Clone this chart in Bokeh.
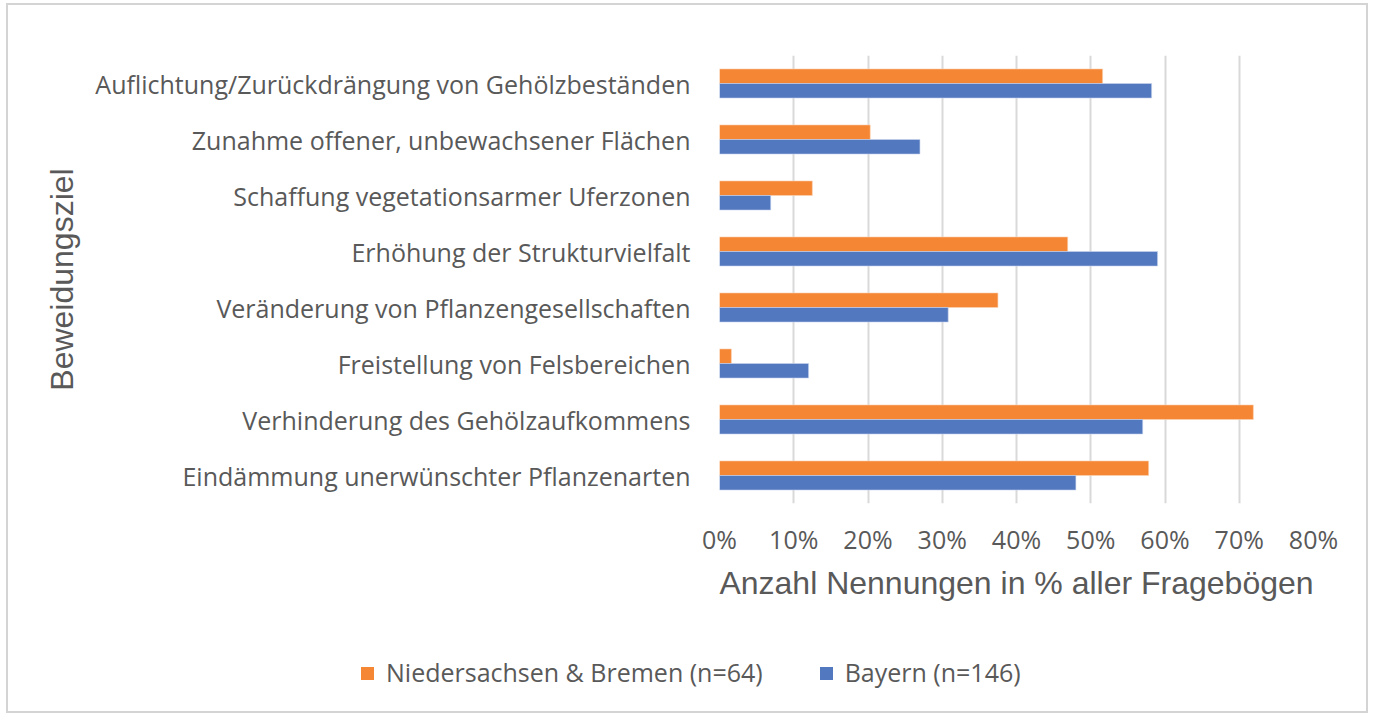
from bokeh.plotting import figure
from bokeh.models import FactorRange, Range1d, NumeralTickFormatter, FixedTicker, ColumnDataSource, Div
from bokeh.layouts import column
from bokeh.transform import dodge
from bokeh.embed import file_html
from bokeh.resources import INLINE

categories = [
    "Auflichtung/Zurückdrängung von Gehölzbeständen",
    "Zunahme offener, unbewachsener Flächen",
    "Schaffung vegetationsarmer Uferzonen",
    "Erhöhung der Strukturvielfalt",
    "Veränderung von Pflanzengesellschaften",
    "Freistellung von Felsbereichen",
    "Verhinderung des Gehölzaufkommens",
    "Eindämmung unerwünschter Pflanzenarten",
]
niedersachsen = [0.516, 0.203, 0.125, 0.469, 0.375, 0.016, 0.719, 0.578]
bayern = [0.582, 0.270, 0.069, 0.590, 0.308, 0.120, 0.570, 0.480]
x_ticks = [0, 0.1, 0.2, 0.3, 0.4, 0.5, 0.6, 0.7, 0.8]
series_names = ["Niedersachsen & Bremen (n=64)", "Bayern (n=146)"]
colors = ["#F58634", "#5279BF"]

src = ColumnDataSource(dict(cat=categories, nds=niedersachsen, bay=bayern))

TEXT = "#595959"
FONT = "Open Sans"
W = 1358

p = figure(
    width=W, height=620,
    y_range=FactorRange(*reversed(categories), range_padding=0),
    x_range=Range1d(0, 0.8),
    output_backend="svg", toolbar_location=None,
    min_border_left=711, min_border_right=53, min_border_top=50, min_border_bottom=122,
)

p.hbar(y=dodge("cat", 0.13, range=p.y_range), right="nds", left=0, height=0.26,
       source=src, fill_color=colors[0], line_color="#FBD3B4", line_width=0.6)
p.hbar(y=dodge("cat", -0.13, range=p.y_range), right="bay", left=0, height=0.26,
       source=src, fill_color=colors[1], line_color="#C9D5EC", line_width=0.6)

p.outline_line_color = None
p.ygrid.grid_line_color = None
p.xgrid.grid_line_color = "#d9d9d9"
p.xgrid.grid_line_width = 2
p.xaxis.ticker = FixedTicker(ticks=x_ticks)
p.xaxis.formatter = NumeralTickFormatter(format="0%")

for ax in (p.xaxis[0], p.yaxis[0]):
    ax.axis_line_color = None
    ax.major_tick_line_color = None
    ax.minor_tick_line_color = None
    ax.major_label_text_color = TEXT
    ax.major_label_text_font = FONT
    ax.major_label_text_font_size = "25px"
    ax.axis_label_text_color = TEXT
    ax.axis_label_text_font = "Liberation Sans"
    ax.axis_label_text_font_size = "32px"
    ax.axis_label_text_font_style = "normal"

p.xaxis.major_label_standoff = 12
p.yaxis.major_label_standoff = 23
p.xaxis.axis_label = "Anzahl Nennungen in % aller Fragebögen"
p.xaxis.axis_label_standoff = 6
p.yaxis.axis_label = "Beweidungsziel"
p.yaxis.axis_label_standoff = 12

def item(color, label, gap):
    return (f'<span style="display:inline-block;width:13px;height:13px;background:{color};'
            f'margin-right:12px"></span>'
            f'<span style="margin-right:{gap}px">{label.replace("&", "&amp;")}</span>')

legend_html = (
    f'<div style="display:flex;align-items:center;box-sizing:border-box;width:{W}px;height:86px;'
    f'padding-left:353px;padding-top:10px;font-family:\'{FONT}\';font-size:25px;color:{TEXT};'
    f'white-space:nowrap">'
    + item(colors[0], series_names[0], 57) + item(colors[1], series_names[1], 0)
    + '</div>'
)
legend_div = Div(text=legend_html, width=W, height=86, margin=0)

layout = column(p, legend_div, spacing=0,
                styles={"border": "2px solid #d4d4d4", "margin-left": "6px", "margin-top": "3px"})

open("out.html", "w").write(file_html(layout, INLINE))
